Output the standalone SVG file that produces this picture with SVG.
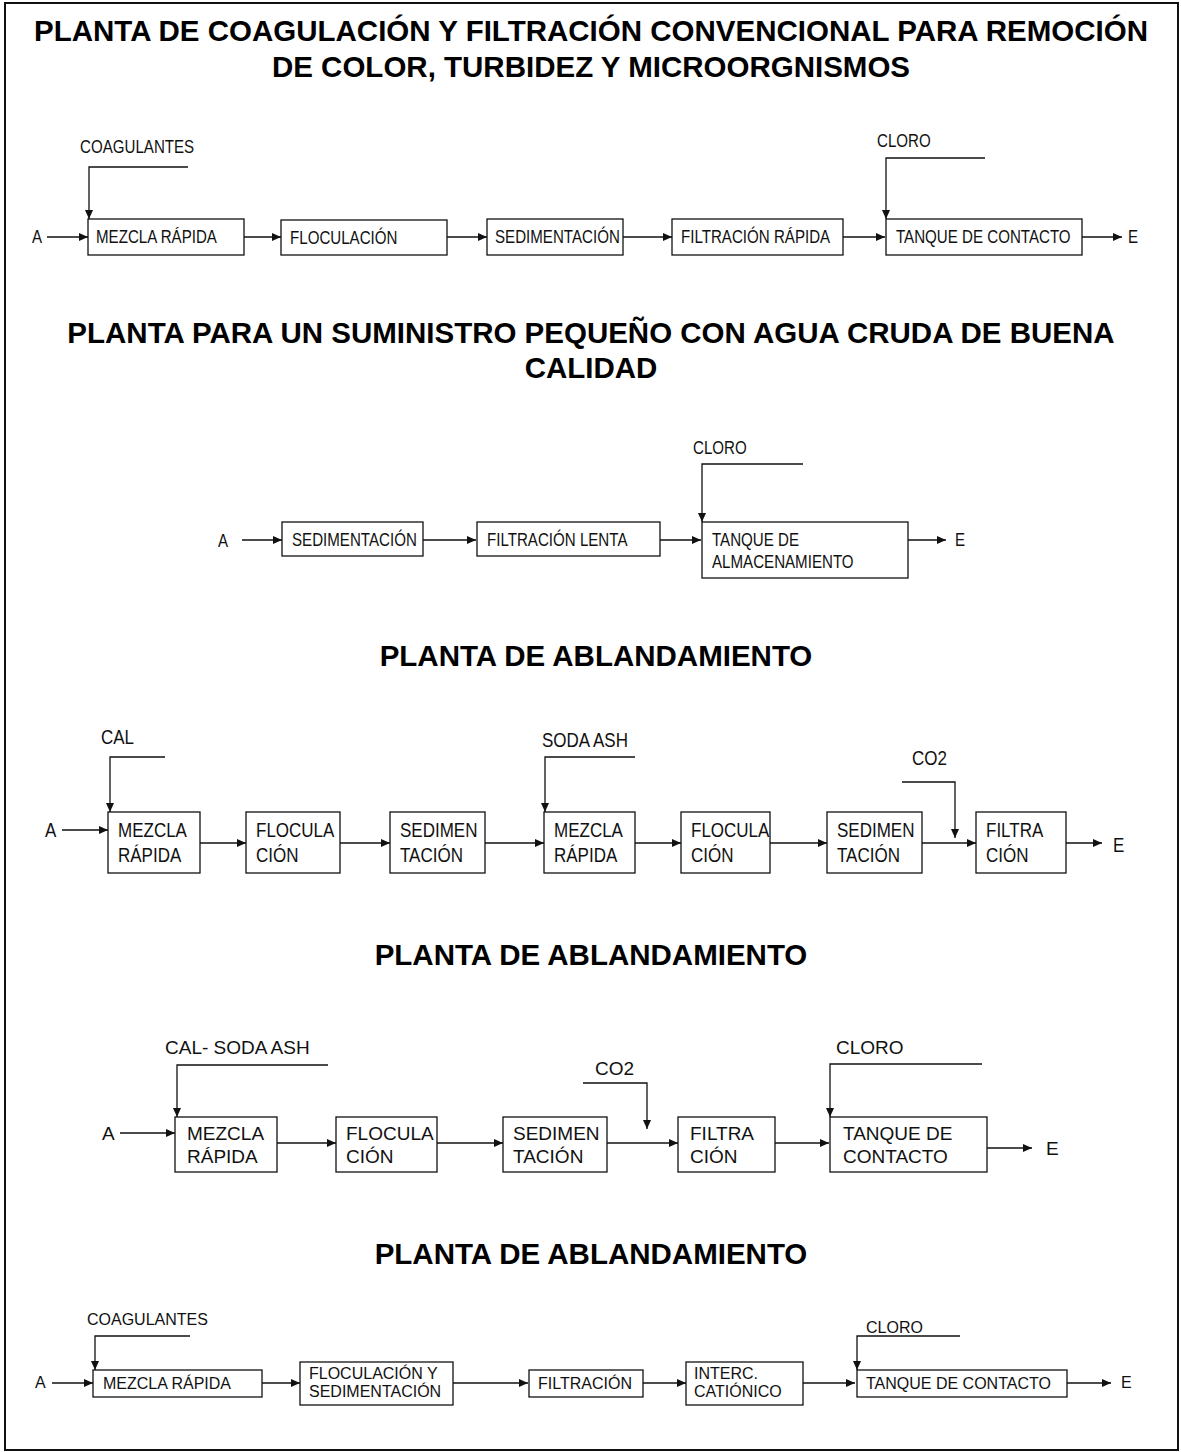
<svg xmlns="http://www.w3.org/2000/svg" width="1181" height="1452" viewBox="0 0 1181 1452">
<defs>
<marker id="ah" markerUnits="userSpaceOnUse" markerWidth="9" markerHeight="8" refX="9" refY="4" orient="auto">
<path d="M0,0 L9,4 L0,8 Z" fill="#111"/>
</marker>
<style>
.t{font-family:"Liberation Sans",Arial,sans-serif;font-weight:bold;font-size:29.5px;fill:#000;text-anchor:middle}
.n{font-family:"Liberation Sans",Arial,sans-serif;fill:#111}
.n1{font-size:18px}
.n3{font-size:21px}
.r{font-family:"Liberation Sans",Arial,sans-serif;fill:#111}
.r4{font-size:19px}
.r5{font-size:16px}
.b{fill:#fff;stroke:#111;stroke-width:1.3}
.c{fill:none;stroke:#111;stroke-width:1.3}
.a{fill:none;stroke:#111;stroke-width:1.3;marker-end:url(#ah)}
</style>
</defs>
<rect x="0" y="0" width="1181" height="1452" fill="#fff"/>
<rect x="5" y="3" width="1173" height="1447" fill="none" stroke="#111" stroke-width="2"/>

<g id="titles">
<text class="t" x="591" y="41">PLANTA DE COAGULACIÓN Y FILTRACIÓN CONVENCIONAL PARA REMOCIÓN</text>
<text class="t" x="591" y="77">DE COLOR, TURBIDEZ Y MICROORGNISMOS</text>
<text class="t" x="591" y="343">PLANTA PARA UN SUMINISTRO PEQUEÑO CON AGUA CRUDA DE BUENA</text>
<text class="t" x="591" y="378">CALIDAD</text>
<text class="t" x="596" y="666">PLANTA DE ABLANDAMIENTO</text>
<text class="t" x="591" y="965">PLANTA DE ABLANDAMIENTO</text>
<text class="t" x="591" y="1264">PLANTA DE ABLANDAMIENTO</text>
</g>

<g id="connectors">
<!-- row 1 -->
<path class="c" d="M188,167 H89 V212"/><path class="a" d="M89,212 V219"/>
<path class="c" d="M985,158 H886 V212"/><path class="a" d="M886,212 V219"/>
<path class="a" d="M47,237 H88"/>
<path class="a" d="M244,237 H281"/>
<path class="a" d="M447,237 H487"/>
<path class="a" d="M623,237 H672"/>
<path class="a" d="M843,237 H885"/>
<path class="a" d="M1082,237 H1122"/>
<!-- row 2 -->
<path class="c" d="M803,464 H702 V515"/><path class="a" d="M702,515 V522"/>
<path class="a" d="M242,540 H282"/>
<path class="a" d="M423,540 H476"/>
<path class="a" d="M660,540 H701"/>
<path class="a" d="M908,540 H946"/>
<!-- row 3 -->
<path class="c" d="M165,757 H110 V805"/><path class="a" d="M110,805 V812"/>
<path class="c" d="M635,757 H545 V805"/><path class="a" d="M545,805 V812"/>
<path class="c" d="M902,782 H955 V830"/><path class="a" d="M955,830 V838"/>
<path class="a" d="M62,830 H108"/>
<path class="a" d="M200,843 H246"/>
<path class="a" d="M340,843 H390"/>
<path class="a" d="M485,843 H544"/>
<path class="a" d="M635,843 H681"/>
<path class="a" d="M770,843 H827"/>
<path class="a" d="M922,843 H976"/>
<path class="a" d="M1066,843 H1102"/>
<!-- row 4 -->
<path class="c" d="M328,1065 H177 V1110"/><path class="a" d="M177,1110 V1117"/>
<path class="c" d="M583,1083 H647 V1122"/><path class="a" d="M647,1122 V1129"/>
<path class="c" d="M982,1064 H830 V1110"/><path class="a" d="M830,1110 V1117"/>
<path class="a" d="M120,1133 H175"/>
<path class="a" d="M277,1143 H336"/>
<path class="a" d="M437,1143 H503"/>
<path class="a" d="M607,1143 H678"/>
<path class="a" d="M775,1143 H829"/>
<path class="a" d="M987,1148 H1032"/>
<!-- row 5 -->
<path class="c" d="M190,1336 H95 V1363"/><path class="a" d="M95,1363 V1370"/>
<path class="c" d="M960,1336 H857 V1363"/><path class="a" d="M857,1363 V1370"/>
<path class="a" d="M52,1383 H93"/>
<path class="a" d="M262,1383 H300"/>
<path class="a" d="M453,1383 H528"/>
<path class="a" d="M643,1383 H686"/>
<path class="a" d="M803,1383 H855"/>
<path class="a" d="M1067,1383 H1111"/>
</g>

<g id="labels">
<text class="n n1" transform="translate(80 153) scale(0.84 1)">COAGULANTES</text>
<text class="n n1" transform="translate(877 147) scale(0.84 1)">CLORO</text>
<text class="n n1" transform="translate(32 243) scale(0.84 1)">A</text>
<text class="n n1" transform="translate(1128 243) scale(0.84 1)">E</text>
<text class="n n1" transform="translate(693 454) scale(0.84 1)">CLORO</text>
<text class="n n1" transform="translate(218 547) scale(0.84 1)">A</text>
<text class="n n1" transform="translate(955 546) scale(0.84 1)">E</text>
<text class="n n3" transform="translate(101 744) scale(0.81 1)">CAL</text>
<text class="n n3" transform="translate(542 747) scale(0.81 1)">SODA ASH</text>
<text class="n n3" transform="translate(912 765) scale(0.81 1)">CO2</text>
<text class="n n3" transform="translate(45 837) scale(0.81 1)">A</text>
<text class="n n3" transform="translate(1113 852) scale(0.81 1)">E</text>
<text class="r r4" x="165" y="1054">CAL- SODA ASH</text>
<text class="r r4" x="595" y="1075">CO2</text>
<text class="r r4" x="836" y="1054">CLORO</text>
<text class="r r4" x="102" y="1140">A</text>
<text class="r r4" x="1046" y="1155">E</text>
<text class="r r5" x="87" y="1325">COAGULANTES</text>
<text class="r r5" x="866" y="1333">CLORO</text>
<text class="r r5" x="35" y="1388">A</text>
<text class="r r5" x="1121" y="1388">E</text>
</g>

<g id="r1-mezcla"><rect class="b" x="88" y="219" width="156" height="36"/><text class="n n1" transform="translate(96 243) scale(0.84 1)">MEZCLA RÁPIDA</text></g>
<g id="r1-floculacion"><rect class="b" x="281" y="220" width="166" height="35"/><text class="n n1" transform="translate(290 244) scale(0.84 1)">FLOCULACIÓN</text></g>
<g id="r1-sedimentacion"><rect class="b" x="487" y="219" width="136" height="36"/><text class="n n1" transform="translate(495 243) scale(0.84 1)">SEDIMENTACIÓN</text></g>
<g id="r1-filtracion"><rect class="b" x="672" y="219" width="171" height="36"/><text class="n n1" transform="translate(681 243) scale(0.84 1)">FILTRACIÓN RÁPIDA</text></g>
<g id="r1-tanque"><rect class="b" x="886" y="219" width="196" height="36"/><text class="n n1" transform="translate(896 243) scale(0.84 1)">TANQUE DE CONTACTO</text></g>

<g id="r2-sedimentacion"><rect class="b" x="282" y="522" width="141" height="34"/><text class="n n1" transform="translate(292 546) scale(0.84 1)">SEDIMENTACIÓN</text></g>
<g id="r2-filtracion"><rect class="b" x="477" y="522" width="183" height="34"/><text class="n n1" transform="translate(487 546) scale(0.84 1)">FILTRACIÓN LENTA</text></g>
<g id="r2-tanque"><rect class="b" x="702" y="522" width="206" height="56"/><text class="n n1" transform="translate(712 546) scale(0.84 1)">TANQUE DE</text><text class="n n1" transform="translate(712 568) scale(0.84 1)">ALMACENAMIENTO</text></g>

<g id="r3-mezcla1"><rect class="b" x="108" y="812" width="92" height="61"/><text class="n n3" transform="translate(118 837) scale(0.81 1)">MEZCLA</text><text class="n n3" transform="translate(118 862) scale(0.81 1)">RÁPIDA</text></g>
<g id="r3-floc1"><rect class="b" x="246" y="812" width="94" height="61"/><text class="n n3" transform="translate(256 837) scale(0.81 1)">FLOCULA</text><text class="n n3" transform="translate(256 862) scale(0.81 1)">CIÓN</text></g>
<g id="r3-sed1"><rect class="b" x="390" y="812" width="95" height="61"/><text class="n n3" transform="translate(400 837) scale(0.81 1)">SEDIMEN</text><text class="n n3" transform="translate(400 862) scale(0.81 1)">TACIÓN</text></g>
<g id="r3-mezcla2"><rect class="b" x="544" y="812" width="91" height="61"/><text class="n n3" transform="translate(554 837) scale(0.81 1)">MEZCLA</text><text class="n n3" transform="translate(554 862) scale(0.81 1)">RÁPIDA</text></g>
<g id="r3-floc2"><rect class="b" x="681" y="812" width="89" height="61"/><text class="n n3" transform="translate(691 837) scale(0.81 1)">FLOCULA</text><text class="n n3" transform="translate(691 862) scale(0.81 1)">CIÓN</text></g>
<g id="r3-sed2"><rect class="b" x="827" y="812" width="95" height="61"/><text class="n n3" transform="translate(837 837) scale(0.81 1)">SEDIMEN</text><text class="n n3" transform="translate(837 862) scale(0.81 1)">TACIÓN</text></g>
<g id="r3-filtra"><rect class="b" x="976" y="812" width="90" height="61"/><text class="n n3" transform="translate(986 837) scale(0.81 1)">FILTRA</text><text class="n n3" transform="translate(986 862) scale(0.81 1)">CIÓN</text></g>

<g id="r4-mezcla"><rect class="b" x="175" y="1117" width="102" height="55"/><text class="r r4" x="187" y="1140">MEZCLA</text><text class="r r4" x="187" y="1163">RÁPIDA</text></g>
<g id="r4-floc"><rect class="b" x="336" y="1117" width="101" height="55"/><text class="r r4" x="346" y="1140">FLOCULA</text><text class="r r4" x="346" y="1163">CIÓN</text></g>
<g id="r4-sed"><rect class="b" x="503" y="1117" width="104" height="55"/><text class="r r4" x="513" y="1140">SEDIMEN</text><text class="r r4" x="513" y="1163">TACIÓN</text></g>
<g id="r4-filtra"><rect class="b" x="678" y="1117" width="97" height="55"/><text class="r r4" x="690" y="1140">FILTRA</text><text class="r r4" x="690" y="1163">CIÓN</text></g>
<g id="r4-tanque"><rect class="b" x="830" y="1117" width="157" height="55"/><text class="r r4" x="843" y="1140">TANQUE DE</text><text class="r r4" x="843" y="1163">CONTACTO</text></g>

<g id="r5-mezcla"><rect class="b" x="93" y="1370" width="169" height="27"/><text class="r r5" x="103" y="1389">MEZCLA RÁPIDA</text></g>
<g id="r5-floc"><rect class="b" x="300" y="1362" width="153" height="43"/><text class="r r5" x="309" y="1379">FLOCULACIÓN Y</text><text class="r r5" x="309" y="1397">SEDIMENTACIÓN</text></g>
<g id="r5-filtracion"><rect class="b" x="529" y="1370" width="114" height="27"/><text class="r r5" x="538" y="1389">FILTRACIÓN</text></g>
<g id="r5-interc"><rect class="b" x="686" y="1362" width="117" height="43"/><text class="r r5" x="694" y="1379">INTERC.</text><text class="r r5" x="694" y="1397">CATIÓNICO</text></g>
<g id="r5-tanque"><rect class="b" x="857" y="1370" width="210" height="27"/><text class="r r5" x="866" y="1389">TANQUE DE CONTACTO</text></g>
</svg>
